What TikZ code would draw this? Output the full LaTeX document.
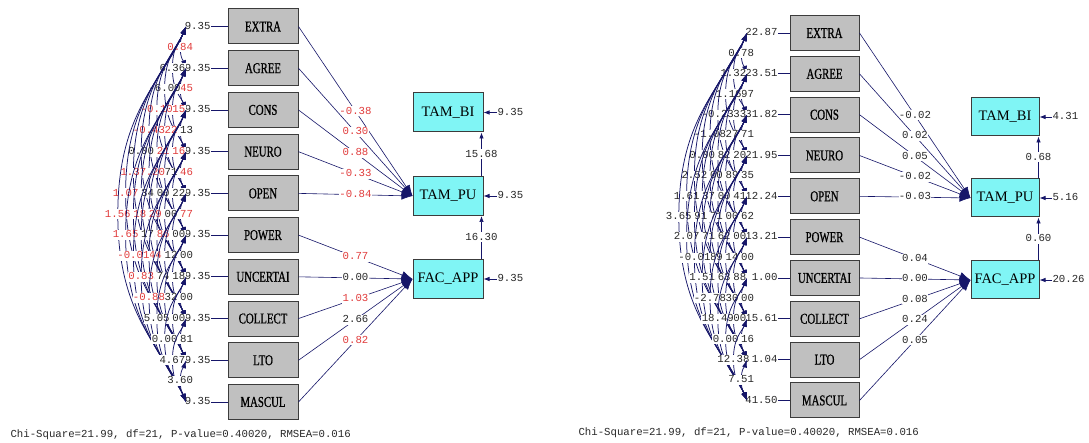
\documentclass[tikz,border=0pt]{standalone}
\usepackage{fontspec}
\setmainfont{Liberation Serif}
\newfontfamily\monof{Liberation Mono}
\newfontfamily\boxf[FakeStretch=0.72,FakeBold=0.8]{Liberation Serif}
\usetikzlibrary{arrows.meta}
\definecolor{navy}{RGB}{22,22,105}
\definecolor{tred}{RGB}{225,60,60}
\definecolor{tblk}{RGB}{40,40,40}
\definecolor{gbox}{RGB}{192,192,192}
\definecolor{cbox}{RGB}{128,245,245}
\definecolor{bord}{RGB}{60,60,60}
\tikzset{
  graybox/.style={draw=bord, line width=1pt, fill=gbox, minimum width=70pt, minimum height=35pt, inner sep=0pt, font=\boxf\fontsize{15}{16}\selectfont},
  cyanbox/.style={draw=bord, line width=1pt, fill=cbox, minimum width=70pt, minimum height=39pt, inner sep=0pt, font=\fontsize{14.5}{15}\selectfont},
  numlab/.style={font=\monof\fontsize{10.7}{11}\selectfont, inner xsep=0.3pt, inner ysep=0.6pt, text height=7.2pt, text depth=1.6pt, text=tblk},
  varlab/.style={numlab},
  covlab/.style={numlab, fill=white},
  pathlab/.style={numlab, fill=white},
  navyline/.style={draw=navy, line width=0.7pt},
  pathline/.style={draw=navy, line width=0.6pt, -{Latex[length=11pt,width=8pt]}},
  smallarrow/.style={draw=navy, line width=0.7pt, -{Latex[length=6pt,width=4.5pt]}},
  covarc/.style={draw=navy, line width=0.75pt, {Latex[length=8pt,width=5pt]}-{Latex[length=8pt,width=5pt]}},
}
\newcommand\covpair[5]{%
  \pgfmathsetmacro\cvd{#3-#2}%
  \pgfmathsetmacro\cvh{\Pt*\cvd/2}%
  \pgfmathsetmacro\cvw{7.8*\cvd-2}%
  \pgfmathsetmacro\cvym{\Yz+\Pt*(#2+#3)/2}%
  \pgfmathsetmacro\cvx{\Xa-\cvw}%
  \coordinate (#1a#2#3) at (\cvx,\cvym);%
  \draw[covarc] (#1v#2) .. controls +(-0.35*\cvw,0.3*\cvh) and +(0,-0.55*\cvh) .. (#1a#2#3) .. controls +(0,0.55*\cvh) and +(-0.35*\cvw,-0.3*\cvh) .. (#1v#3);%
  \node[covlab,text=#5] (#1n#2#3) at (#1a#2#3) {#4};%
}
\begin{document}
\begin{tikzpicture}[x=1pt,y=-1pt]
\useasboundingbox (0,0) rectangle (1089,443);
\fill[white] (0,0) rectangle (1089,443);

% ================= LEFT PANEL =================
\foreach \nm [count=\n from 0] in {EXTRA,AGREE,CONS,NEURO,OPEN,POWER,UNCERTAI,COLLECT,LTO,MASCUL} {
  \pgfmathsetmacro\yy{26.5+41.72*\n}
  \node[graybox] (Lb\n) at (263,\yy) {\nm};
  \node[varlab, anchor=east] (Lt\n) at (211,\yy) {9.35};
  \draw[navyline] (Lt\n.east) -- (Lb\n.west);
  \coordinate (Lv\n) at (186,\yy);
}
\node[cyanbox] (Lbi) at (448,112.5) {TAM\_BI};
\node[cyanbox] (Lpu) at (448,196) {TAM\_PU};
\node[cyanbox] (Lfa) at (448,279) {FAC\_APP};

\foreach \n/\t/\c in {0/-0.38/tred,1/0.30/tred,2/0.88/tred,3/-0.33/tred,4/-0.84/tred}
  \draw[pathline] (Lb\n.east) -- node[pathlab,text=\c]{\t} (Lpu.west);
\foreach \n/\t/\c in {5/0.77/tred,6/0.00/tblk,7/1.03/tred,8/2.66/tblk,9/0.82/tred}
  \draw[pathline] (Lb\n.east) -- node[pathlab,text=\c]{\t} (Lfa.west);

\draw[smallarrow] ([xshift=-2pt]Lpu.north east) -- node[pathlab]{15.68} ([xshift=-2pt]Lbi.south east);
\draw[smallarrow] ([xshift=-2pt]Lfa.north east) -- node[pathlab]{16.30} ([xshift=-2pt]Lpu.south east);

\node[varlab, anchor=west] (Lebi) at (497,112.5) {9.35};
\node[varlab, anchor=west] (Lepu) at (497,196) {9.35};
\node[varlab, anchor=west] (Lefa) at (497,279) {9.35};
\draw[smallarrow] (Lebi.west) -- (Lbi.east);
\draw[smallarrow] (Lepu.west) -- (Lpu.east);
\draw[smallarrow] (Lefa.west) -- (Lfa.east);

\node[numlab, anchor=west] (Lchi) at (10,435) {Chi-Square=21.99, df=21, P-value=0.40020, RMSEA=0.016};

\def\Xa{186}\def\Yz{26.5}\def\Pt{41.72}
\covpair{L}{0}{1}{0.84}{tred}
\covpair{L}{0}{2}{6.36}{tblk}
\covpair{L}{1}{2}{0.45}{tred}
\covpair{L}{0}{3}{-6.00}{tblk}
\covpair{L}{1}{3}{0.15}{tred}
\covpair{L}{2}{3}{2.13}{tblk}
\covpair{L}{0}{4}{-0.10}{tred}
\covpair{L}{1}{4}{0.22}{tred}
\covpair{L}{2}{4}{0.16}{tred}
\covpair{L}{3}{4}{1.46}{tred}
\covpair{L}{0}{5}{-0.43}{tred}
\covpair{L}{1}{5}{0.21}{tred}
\covpair{L}{2}{5}{0.71}{tblk}
\covpair{L}{3}{5}{0.22}{tblk}
\covpair{L}{4}{5}{0.77}{tred}
\covpair{L}{0}{6}{0.00}{tblk}
\covpair{L}{1}{6}{-0.20}{tred}
\covpair{L}{2}{6}{0.00}{tblk}
\covpair{L}{3}{6}{0.00}{tblk}
\covpair{L}{4}{6}{0.00}{tblk}
\covpair{L}{5}{6}{0.00}{tblk}
\covpair{L}{0}{7}{1.37}{tred}
\covpair{L}{1}{7}{3.34}{tblk}
\covpair{L}{2}{7}{0.29}{tred}
\covpair{L}{3}{7}{0.86}{tred}
\covpair{L}{4}{7}{0.12}{tblk}
\covpair{L}{5}{7}{0.18}{tblk}
\covpair{L}{6}{7}{0.00}{tblk}
\covpair{L}{0}{8}{1.07}{tred}
\covpair{L}{1}{8}{0.18}{tred}
\covpair{L}{2}{8}{0.17}{tblk}
\covpair{L}{3}{8}{0.44}{tred}
\covpair{L}{4}{8}{0.74}{tblk}
\covpair{L}{5}{8}{0.32}{tblk}
\covpair{L}{6}{8}{0.00}{tblk}
\covpair{L}{7}{8}{0.81}{tblk}
\covpair{L}{0}{9}{1.56}{tred}
\covpair{L}{1}{9}{1.65}{tred}
\covpair{L}{2}{9}{-0.01}{tred}
\covpair{L}{3}{9}{0.83}{tred}
\covpair{L}{4}{9}{-0.88}{tred}
\covpair{L}{5}{9}{5.05}{tblk}
\covpair{L}{6}{9}{0.00}{tblk}
\covpair{L}{7}{9}{4.67}{tblk}
\covpair{L}{8}{9}{3.60}{tblk}

% ================= RIGHT PANEL =================
\foreach \nm/\vv [count=\n from 0] in {EXTRA/22.87,AGREE/23.51,CONS/31.82,NEURO/21.95,OPEN/12.24,POWER/13.21,UNCERTAI/1.00,COLLECT/15.61,LTO/1.04,MASCUL/41.50} {
  \pgfmathsetmacro\yy{33+40.83*\n}
  \node[graybox, minimum width=69pt] (Rb\n) at (824.5,\yy) {\nm};
  \node[varlab, anchor=east] (Rt\n) at (778,\yy) {\vv};
  \draw[navyline] (Rt\n.east) -- (Rb\n.west);
  \coordinate (Rv\n) at (747,\yy);
}
\node[cyanbox, minimum width=68pt, minimum height=38pt] (Rbi) at (1005,117) {TAM\_BI};
\node[cyanbox, minimum width=68pt, minimum height=38pt] (Rpu) at (1005,198) {TAM\_PU};
\node[cyanbox, minimum width=68pt, minimum height=38pt] (Rfa) at (1005,280) {FAC\_APP};

\foreach \n/\t in {0/-0.02,1/0.02,2/0.05,3/-0.02,4/-0.03}
  \draw[pathline] (Rb\n.east) -- node[pathlab]{\t} (Rpu.west);
\foreach \n/\t in {5/0.04,6/0.00,7/0.08,8/0.24,9/0.05}
  \draw[pathline] (Rb\n.east) -- node[pathlab]{\t} (Rfa.west);

\draw[smallarrow] ([xshift=-1pt]Rpu.north east) -- node[pathlab]{0.68} ([xshift=-1pt]Rbi.south east);
\draw[smallarrow] ([xshift=-1pt]Rfa.north east) -- node[pathlab]{0.60} ([xshift=-1pt]Rpu.south east);

\node[varlab, anchor=west] (Rebi) at (1052,117) {4.31};
\node[varlab, anchor=west] (Repu) at (1052,198) {5.16};
\node[varlab, anchor=west] (Refa) at (1052,280) {20.26};
\draw[smallarrow] (Rebi.west) -- (Rbi.east);
\draw[smallarrow] (Repu.west) -- (Rpu.east);
\draw[smallarrow] (Refa.west) -- (Rfa.east);

\node[numlab, anchor=west] (Rchi) at (578,433) {Chi-Square=21.99, df=21, P-value=0.40020, RMSEA=0.016};

\def\Xa{747}\def\Yz{33}\def\Pt{40.83}
\covpair{R}{0}{1}{0.78}{tblk}
\covpair{R}{0}{2}{1.32}{tblk}
\covpair{R}{1}{2}{0.97}{tblk}
\covpair{R}{0}{3}{-1.16}{tblk}
\covpair{R}{1}{3}{0.33}{tblk}
\covpair{R}{2}{3}{1.71}{tblk}
\covpair{R}{0}{4}{-0.23}{tblk}
\covpair{R}{1}{4}{0.27}{tblk}
\covpair{R}{2}{4}{0.20}{tblk}
\covpair{R}{3}{4}{0.35}{tblk}
\covpair{R}{0}{5}{-1.08}{tblk}
\covpair{R}{1}{5}{0.82}{tblk}
\covpair{R}{2}{5}{0.89}{tblk}
\covpair{R}{3}{5}{0.41}{tblk}
\covpair{R}{4}{5}{0.62}{tblk}
\covpair{R}{0}{6}{0.00}{tblk}
\covpair{R}{1}{6}{0.00}{tblk}
\covpair{R}{2}{6}{0.00}{tblk}
\covpair{R}{3}{6}{0.00}{tblk}
\covpair{R}{4}{6}{0.00}{tblk}
\covpair{R}{5}{6}{0.00}{tblk}
\covpair{R}{0}{7}{2.52}{tblk}
\covpair{R}{1}{7}{0.37}{tblk}
\covpair{R}{2}{7}{0.71}{tblk}
\covpair{R}{3}{7}{1.62}{tblk}
\covpair{R}{4}{7}{0.14}{tblk}
\covpair{R}{5}{7}{0.88}{tblk}
\covpair{R}{6}{7}{0.00}{tblk}
\covpair{R}{0}{8}{1.61}{tblk}
\covpair{R}{1}{8}{1.91}{tblk}
\covpair{R}{2}{8}{0.71}{tblk}
\covpair{R}{3}{8}{0.89}{tblk}
\covpair{R}{4}{8}{0.63}{tblk}
\covpair{R}{5}{8}{1.30}{tblk}
\covpair{R}{6}{8}{0.00}{tblk}
\covpair{R}{7}{8}{0.16}{tblk}
\covpair{R}{0}{9}{3.65}{tblk}
\covpair{R}{1}{9}{2.07}{tblk}
\covpair{R}{2}{9}{-0.01}{tblk}
\covpair{R}{3}{9}{1.51}{tblk}
\covpair{R}{4}{9}{-2.78}{tblk}
\covpair{R}{5}{9}{18.49}{tblk}
\covpair{R}{6}{9}{0.00}{tblk}
\covpair{R}{7}{9}{12.38}{tblk}
\covpair{R}{8}{9}{7.51}{tblk}
\end{tikzpicture}
\end{document}
